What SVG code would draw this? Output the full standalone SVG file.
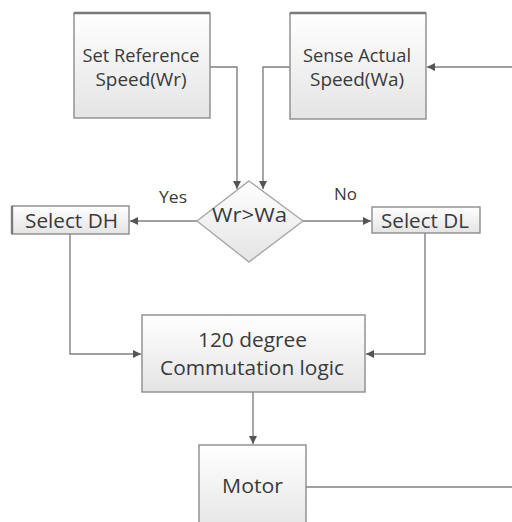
<svg xmlns="http://www.w3.org/2000/svg" width="512" height="522" viewBox="0 0 512 522">
  <defs>
    <linearGradient id="boxFill" x1="0" y1="0" x2="0" y2="1">
      <stop offset="0" stop-color="#ffffff"/>
      <stop offset="1" stop-color="#e4e4e4"/>
    </linearGradient>
    <marker id="arrow" viewBox="0 0 10 10" refX="10" refY="5" markerWidth="8" markerHeight="8" markerUnits="userSpaceOnUse" orient="auto">
      <path d="M0,0 L10,5 L0,10 z" fill="#555555"/>
    </marker>
  </defs>
  <style>
    .box { fill: url(#boxFill); stroke: #8c8c8c; stroke-width: 1.4; }
    .edge { stroke: #7a7a7a; stroke-width: 2.4; }
    .dia { fill: url(#boxFill); stroke: #a8a8a8; stroke-width: 1.4; }
    .lbl { font-family: "Open Sans", "Liberation Sans", sans-serif; fill: #3a3a3a; text-anchor: middle; }
    .conn { fill: none; stroke: #808080; stroke-width: 1.4; }
    .arr { marker-end: url(#arrow); }
  </style>

  <!-- connectors -->
  <g id="connectors">
    <path class="conn arr" d="M512,67 H427"/>
    <path class="conn arr" d="M210,67 H237 V189"/>
    <path class="conn arr" d="M290,67 H263 V189"/>
    <path class="conn arr" d="M197,221 H130"/>
    <path class="conn arr" d="M303,221 H371"/>
    <path class="conn arr" d="M70,234 V354 H141"/>
    <path class="conn arr" d="M425,233 V354 H366"/>
    <path class="conn arr" d="M253,392 V444"/>
    <path class="conn" d="M306,487 H512"/>
  </g>

  <g id="set-ref">
    <rect class="box" x="74" y="13" width="136" height="105"/>
    <line class="edge" x1="74" y1="13" x2="210" y2="13"/>
    <text class="lbl" x="141" y="62" font-size="18" textLength="117" lengthAdjust="spacingAndGlyphs">Set Reference</text>
    <text class="lbl" x="141" y="86" font-size="18" textLength="91" lengthAdjust="spacingAndGlyphs">Speed(Wr)</text>
  </g>

  <g id="sense-actual">
    <rect class="box" x="290" y="13" width="136" height="106"/>
    <line class="edge" x1="290" y1="13" x2="426" y2="13"/>
    <text class="lbl" x="357" y="62" font-size="18" textLength="108" lengthAdjust="spacingAndGlyphs">Sense Actual</text>
    <text class="lbl" x="357" y="86" font-size="18" textLength="94" lengthAdjust="spacingAndGlyphs">Speed(Wa)</text>
  </g>

  <g id="decision">
    <polygon class="dia" points="249,181 303,221 249,262 197,221"/>
    <text class="lbl" x="249.5" y="222" font-size="20" textLength="75" lengthAdjust="spacingAndGlyphs">Wr&gt;Wa</text>
  </g>

  <g id="yes-label">
    <text class="lbl" x="173" y="203" font-size="16" textLength="28" lengthAdjust="spacingAndGlyphs">Yes</text>
  </g>
  <g id="no-label">
    <text class="lbl" x="345.5" y="200" font-size="16" textLength="23" lengthAdjust="spacingAndGlyphs">No</text>
  </g>

  <g id="select-dh">
    <rect class="box" x="12" y="206" width="117" height="28"/>
    <line class="edge" x1="12" y1="206" x2="12" y2="234"/>
    <text class="lbl" x="71.5" y="228" font-size="20" textLength="93" lengthAdjust="spacingAndGlyphs">Select DH</text>
  </g>

  <g id="select-dl">
    <rect class="box" x="372" y="207" width="108" height="26"/>
    <text class="lbl" x="425" y="228" font-size="20" textLength="88" lengthAdjust="spacingAndGlyphs">Select DL</text>
  </g>

  <g id="commutation">
    <rect class="box" x="142" y="315" width="223" height="77"/>
    <text class="lbl" x="252.5" y="347" font-size="20" textLength="109" lengthAdjust="spacingAndGlyphs">120 degree</text>
    <text class="lbl" x="252" y="375" font-size="20" textLength="184" lengthAdjust="spacingAndGlyphs">Commutation logic</text>
  </g>

  <g id="motor">
    <rect class="box" x="199" y="445" width="107" height="90"/>
    <text class="lbl" x="252.5" y="493" font-size="20" textLength="61" lengthAdjust="spacingAndGlyphs">Motor</text>
  </g>
</svg>
